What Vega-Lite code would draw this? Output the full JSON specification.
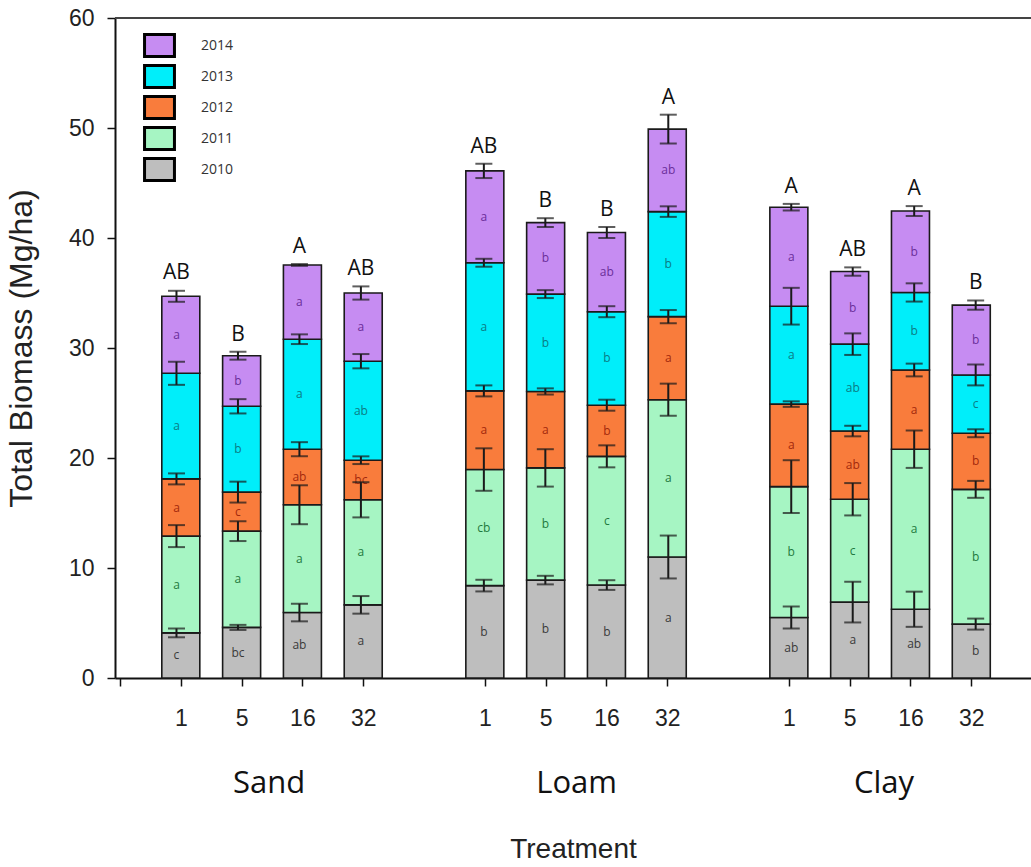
{
  "$schema": "https://vega.github.io/schema/vega-lite/v6.json",
  "width": 916,
  "height": 660,
  "autosize": {"type": "none"},
  "padding": {"left": 115, "top": 18, "right": 0, "bottom": 189},
  "background": "white",
  "datasets": {
    "seg": [
      {"soil":"Sand","treatment":"1","pos":0,"year":"2010","value":4.1,"err":0.4,"letter":"c"},
      {"soil":"Sand","treatment":"1","pos":0,"year":"2011","value":8.8,"err":1.0,"letter":"a"},
      {"soil":"Sand","treatment":"1","pos":0,"year":"2012","value":5.2,"err":0.5,"letter":"a"},
      {"soil":"Sand","treatment":"1","pos":0,"year":"2013","value":9.6,"err":1.05,"letter":"a"},
      {"soil":"Sand","treatment":"1","pos":0,"year":"2014","value":7.0,"err":0.5,"letter":"a"},
      {"soil":"Sand","treatment":"5","pos":1,"year":"2010","value":4.6,"err":0.23,"letter":"bc"},
      {"soil":"Sand","treatment":"5","pos":1,"year":"2011","value":8.75,"err":0.9,"letter":"a"},
      {"soil":"Sand","treatment":"5","pos":1,"year":"2012","value":3.55,"err":0.95,"letter":"c"},
      {"soil":"Sand","treatment":"5","pos":1,"year":"2013","value":7.8,"err":0.65,"letter":"b"},
      {"soil":"Sand","treatment":"5","pos":1,"year":"2014","value":4.6,"err":0.36,"letter":"b"},
      {"soil":"Sand","treatment":"16","pos":2,"year":"2010","value":5.95,"err":0.8,"letter":"ab"},
      {"soil":"Sand","treatment":"16","pos":2,"year":"2011","value":9.8,"err":1.77,"letter":"a"},
      {"soil":"Sand","treatment":"16","pos":2,"year":"2012","value":5.05,"err":0.64,"letter":"ab"},
      {"soil":"Sand","treatment":"16","pos":2,"year":"2013","value":10.0,"err":0.44,"letter":"a"},
      {"soil":"Sand","treatment":"16","pos":2,"year":"2014","value":6.75,"err":0.08,"letter":"a"},
      {"soil":"Sand","treatment":"32","pos":3,"year":"2010","value":6.65,"err":0.8,"letter":"a"},
      {"soil":"Sand","treatment":"32","pos":3,"year":"2011","value":9.55,"err":1.6,"letter":"a"},
      {"soil":"Sand","treatment":"32","pos":3,"year":"2012","value":3.6,"err":0.35,"letter":"bc"},
      {"soil":"Sand","treatment":"32","pos":3,"year":"2013","value":9.0,"err":0.65,"letter":"ab"},
      {"soil":"Sand","treatment":"32","pos":3,"year":"2014","value":6.2,"err":0.6,"letter":"a"},
      {"soil":"Loam","treatment":"1","pos":5,"year":"2010","value":8.4,"err":0.53,"letter":"b"},
      {"soil":"Loam","treatment":"1","pos":5,"year":"2011","value":10.55,"err":1.93,"letter":"cb"},
      {"soil":"Loam","treatment":"1","pos":5,"year":"2012","value":7.15,"err":0.5,"letter":"a"},
      {"soil":"Loam","treatment":"1","pos":5,"year":"2013","value":11.65,"err":0.36,"letter":"a"},
      {"soil":"Loam","treatment":"1","pos":5,"year":"2014","value":8.35,"err":0.65,"letter":"a"},
      {"soil":"Loam","treatment":"5","pos":6,"year":"2010","value":8.9,"err":0.39,"letter":"b"},
      {"soil":"Loam","treatment":"5","pos":6,"year":"2011","value":10.2,"err":1.7,"letter":"b"},
      {"soil":"Loam","treatment":"5","pos":6,"year":"2012","value":6.95,"err":0.28,"letter":"a"},
      {"soil":"Loam","treatment":"5","pos":6,"year":"2013","value":8.85,"err":0.36,"letter":"b"},
      {"soil":"Loam","treatment":"5","pos":6,"year":"2014","value":6.5,"err":0.4,"letter":"b"},
      {"soil":"Loam","treatment":"16","pos":7,"year":"2010","value":8.45,"err":0.44,"letter":"b"},
      {"soil":"Loam","treatment":"16","pos":7,"year":"2011","value":11.7,"err":1.0,"letter":"c"},
      {"soil":"Loam","treatment":"16","pos":7,"year":"2012","value":4.65,"err":0.5,"letter":"b"},
      {"soil":"Loam","treatment":"16","pos":7,"year":"2013","value":8.5,"err":0.5,"letter":"b"},
      {"soil":"Loam","treatment":"16","pos":7,"year":"2014","value":7.2,"err":0.5,"letter":"ab"},
      {"soil":"Loam","treatment":"32","pos":8,"year":"2010","value":11.0,"err":1.95,"letter":"a"},
      {"soil":"Loam","treatment":"32","pos":8,"year":"2011","value":14.3,"err":1.46,"letter":"a"},
      {"soil":"Loam","treatment":"32","pos":8,"year":"2012","value":7.55,"err":0.6,"letter":"a"},
      {"soil":"Loam","treatment":"32","pos":8,"year":"2013","value":9.55,"err":0.48,"letter":"b"},
      {"soil":"Loam","treatment":"32","pos":8,"year":"2014","value":7.5,"err":1.31,"letter":"ab"},
      {"soil":"Clay","treatment":"1","pos":10,"year":"2010","value":5.5,"err":1.0,"letter":"ab"},
      {"soil":"Clay","treatment":"1","pos":10,"year":"2011","value":11.9,"err":2.4,"letter":"b"},
      {"soil":"Clay","treatment":"1","pos":10,"year":"2012","value":7.5,"err":0.25,"letter":"a"},
      {"soil":"Clay","treatment":"1","pos":10,"year":"2013","value":8.9,"err":1.67,"letter":"a"},
      {"soil":"Clay","treatment":"1","pos":10,"year":"2014","value":9.0,"err":0.3,"letter":"a"},
      {"soil":"Clay","treatment":"5","pos":11,"year":"2010","value":6.9,"err":1.85,"letter":"a"},
      {"soil":"Clay","treatment":"5","pos":11,"year":"2011","value":9.35,"err":1.47,"letter":"c"},
      {"soil":"Clay","treatment":"5","pos":11,"year":"2012","value":6.2,"err":0.48,"letter":"ab"},
      {"soil":"Clay","treatment":"5","pos":11,"year":"2013","value":7.9,"err":0.98,"letter":"ab"},
      {"soil":"Clay","treatment":"5","pos":11,"year":"2014","value":6.6,"err":0.38,"letter":"b"},
      {"soil":"Clay","treatment":"16","pos":12,"year":"2010","value":6.25,"err":1.6,"letter":"ab"},
      {"soil":"Clay","treatment":"16","pos":12,"year":"2011","value":14.55,"err":1.7,"letter":"a"},
      {"soil":"Clay","treatment":"16","pos":12,"year":"2012","value":7.2,"err":0.58,"letter":"a"},
      {"soil":"Clay","treatment":"16","pos":12,"year":"2013","value":7.05,"err":0.83,"letter":"b"},
      {"soil":"Clay","treatment":"16","pos":12,"year":"2014","value":7.4,"err":0.45,"letter":"b"},
      {"soil":"Clay","treatment":"32","pos":13,"year":"2010","value":4.9,"err":0.5,"letter":"b"},
      {"soil":"Clay","treatment":"32","pos":13,"year":"2011","value":12.25,"err":0.77,"letter":"b"},
      {"soil":"Clay","treatment":"32","pos":13,"year":"2012","value":5.1,"err":0.36,"letter":"b"},
      {"soil":"Clay","treatment":"32","pos":13,"year":"2013","value":5.3,"err":0.95,"letter":"c"},
      {"soil":"Clay","treatment":"32","pos":13,"year":"2014","value":6.35,"err":0.42,"letter":"b"}
    ],
    "groups": [
      {"soil":"Sand","treatment":"1","pos":0,"letter":"AB","upper":35.25},
      {"soil":"Sand","treatment":"5","pos":1,"letter":"B","upper":29.66},
      {"soil":"Sand","treatment":"16","pos":2,"letter":"A","upper":37.63},
      {"soil":"Sand","treatment":"32","pos":3,"letter":"AB","upper":35.6},
      {"soil":"Loam","treatment":"1","pos":5,"letter":"AB","upper":46.75},
      {"soil":"Loam","treatment":"5","pos":6,"letter":"B","upper":41.8},
      {"soil":"Loam","treatment":"16","pos":7,"letter":"B","upper":41.0},
      {"soil":"Loam","treatment":"32","pos":8,"letter":"A","upper":51.2},
      {"soil":"Clay","treatment":"1","pos":10,"letter":"A","upper":43.1},
      {"soil":"Clay","treatment":"5","pos":11,"letter":"AB","upper":37.33},
      {"soil":"Clay","treatment":"16","pos":12,"letter":"A","upper":42.9},
      {"soil":"Clay","treatment":"32","pos":13,"letter":"B","upper":34.32}
    ]
  },
  "layer": [
    {
      "data": {"name": "seg"},
      "mark": {"type": "bar", "width": 38, "stroke": "#1a1a1a", "strokeWidth": 1.6},
      "encoding": {
        "x": {
          "field": "pos", "type": "quantitative",
          "scale": {"domain": [-1, 13.9], "nice": false, "zero": false},
          "axis": {
            "orient": "bottom",
            "values": [-1, 0, 1, 2, 3, 5, 6, 7, 8, 10, 11, 12, 13],
            "labelExpr": "datum.value < 0 ? '' : ['1','5','16','32'][datum.value % 5]",
            "tickSize": 8, "labelFontSize": 23, "labelPadding": 21, "title": null,
            "labelFont": "Liberation Sans", "labelColor": "#222", "domainColor": "#111",
            "domainWidth": 2, "tickColor": "#111", "tickWidth": 1.5, "grid": false, "labelFlush": false
          }
        },
        "y": {
          "field": "value", "type": "quantitative", "stack": "zero",
          "scale": {"domain": [0, 60], "nice": false},
          "title": "Total Biomass (Mg/ha)"
        },
        "color": {
          "field": "year", "type": "nominal",
          "scale": {
            "domain": ["2014", "2013", "2012", "2011", "2010"],
            "range": ["#C68CF2", "#00EEFA", "#F97C3C", "#A6F5C3", "#BEBEBE"]
          },
          "legend": {
            "orient": "none", "legendX": 32, "legendY": 15, "title": null, "direction": "vertical",
            "symbolType": "M-1.36,-1H1.36V1H-1.36Z", "symbolSize": 484,
            "symbolStrokeColor": "#000", "symbolStrokeWidth": 3, "symbolOpacity": 1,
            "labelFont": "Open Sans", "labelFontSize": 14, "labelColor": "#333",
            "labelOffset": 29, "rowPadding": -4, "padding": 0
          }
        },
        "order": {"field": "year", "sort": "ascending"}
      }
    },
    {
      "data": {"name": "seg"},
      "mark": {"type": "text", "font": "Open Sans", "fontSize": 12, "baseline": "middle", "align": "center"},
      "encoding": {
        "x": {"field": "pos", "type": "quantitative", "scale": {"domain": [-1, 13.9], "nice": false, "zero": false}, "axis": null},
        "y": {"field": "value", "type": "quantitative", "stack": "zero", "bandPosition": 0.5, "scale": {"domain": [0, 60], "nice": false}, "title": "Total Biomass (Mg/ha)"},
        "detail": {"field": "year"},
        "order": {"field": "year", "sort": "ascending"},
        "text": {"field": "letter"},
        "color": {
          "field": "year", "type": "nominal",
          "scale": {"domain": ["2014", "2013", "2012", "2011", "2010"], "range": ["#6B2E9A", "#0B7C84", "#A3290C", "#1F7A3E", "#3A3A3A"]},
          "legend": null
        }
      }
    },
    {
      "data": {"name": "seg"},
      "transform": [
        {"stack": "value", "groupby": ["pos"], "sort": [{"field": "year", "order": "ascending"}], "as": ["y0", "y1"]}
      ],
      "mark": {"type": "errorbar", "orient": "vertical", "ticks": {"size": 17}, "thickness": 2, "color": "#1a1a1a"},
      "encoding": {
        "x": {"field": "pos", "type": "quantitative", "scale": {"domain": [-1, 13.9], "nice": false, "zero": false}, "axis": null},
        "y": {"field": "y1", "type": "quantitative", "scale": {"domain": [0, 60], "nice": false}, "title": "Total Biomass (Mg/ha)"},
        "yError": {"field": "err"}
      }
    },
    {
      "data": {"name": "groups"},
      "mark": {"type": "text", "font": "Open Sans", "fontSize": 21, "baseline": "alphabetic", "align": "center", "dy": -11, "color": "#111"},
      "encoding": {
        "x": {
          "field": "pos", "type": "quantitative",
          "scale": {"domain": [-1, 13.9], "nice": false, "zero": false},
          "axis": {
            "orient": "bottom",
            "values": [1.5, 6.5, 11.5],
            "labelExpr": "datum.value < 3 ? 'Sand' : datum.value < 8 ? 'Loam' : 'Clay'",
            "ticks": false, "domain": false, "grid": false,
            "labelFont": "Open Sans", "labelFontSize": 31, "labelColor": "#111", "labelPadding": 90,
            "title": "Treatment", "titleFont": "Liberation Sans", "titleFontSize": 28,
            "titleFontWeight": "normal", "titleColor": "#222", "titlePadding": 37
          }
        },
        "y": {"field": "upper", "type": "quantitative", "scale": {"domain": [0, 60], "nice": false}, "title": "Total Biomass (Mg/ha)"},
        "text": {"field": "letter"}
      }
    },
    {
      "data": {"values": [{}]},
      "mark": {"type": "rule", "color": "#444", "strokeWidth": 2},
      "encoding": {"y": {"datum": 60, "type": "quantitative", "scale": {"domain": [0, 60], "nice": false}, "title": "Total Biomass (Mg/ha)"}}
    }
  ],
  "resolve": {"scale": {"x": "independent", "color": "independent"}, "axis": {"x": "independent"}},
  "config": {
    "view": {"stroke": null},
    "axisY": {
      "tickCount": 6, "tickSize": 8, "labelFontSize": 23, "labelPadding": 13, "labelFont": "Liberation Sans",
      "labelColor": "#222", "titleFont": "Liberation Sans", "titleFontSize": 32, "titleFontWeight": "normal",
      "titleColor": "#222", "titlePadding": 30, "domainColor": "#111", "domainWidth": 2,
      "tickColor": "#111", "tickWidth": 1.5, "grid": false
    }
  }
}
